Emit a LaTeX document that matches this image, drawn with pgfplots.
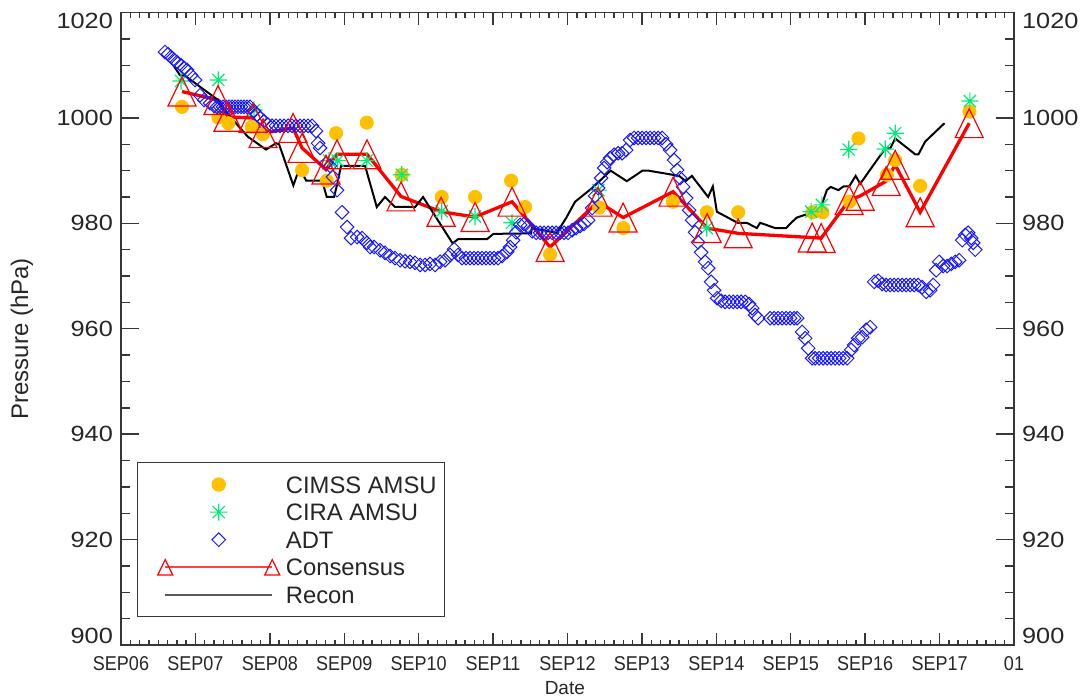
\documentclass[border=0pt]{standalone}
\usepackage{pgfplots}
\pgfplotsset{compat=1.18}
\usepackage{fontspec}
\setmainfont{Liberation Sans}
\definecolor{cimss}{RGB}{255,192,0}
\definecolor{cira}{RGB}{0,235,120}
\definecolor{adt}{RGB}{25,25,255}
\definecolor{cons}{RGB}{255,0,0}
\definecolor{axgray}{RGB}{55,55,55}

\pgfdeclareplotmark{idlstar}{%
  \pgfpathmoveto{\pgfqpoint{-\pgfplotmarksize}{0pt}}\pgfpathlineto{\pgfqpoint{\pgfplotmarksize}{0pt}}%
  \pgfpathmoveto{\pgfqpoint{0pt}{-\pgfplotmarksize}}\pgfpathlineto{\pgfqpoint{0pt}{\pgfplotmarksize}}%
  \pgfpathmoveto{\pgfqpoint{-0.707\pgfplotmarksize}{-0.707\pgfplotmarksize}}\pgfpathlineto{\pgfqpoint{0.707\pgfplotmarksize}{0.707\pgfplotmarksize}}%
  \pgfpathmoveto{\pgfqpoint{-0.707\pgfplotmarksize}{0.707\pgfplotmarksize}}\pgfpathlineto{\pgfqpoint{0.707\pgfplotmarksize}{-0.707\pgfplotmarksize}}%
  \pgfusepathqstroke}
\pgfdeclareplotmark{idldiamond}{%
  \pgfpathmoveto{\pgfqpoint{0pt}{\pgfplotmarksize}}\pgfpathlineto{\pgfqpoint{\pgfplotmarksize}{0pt}}%
  \pgfpathlineto{\pgfqpoint{0pt}{-\pgfplotmarksize}}\pgfpathlineto{\pgfqpoint{-\pgfplotmarksize}{0pt}}%
  \pgfpathclose\pgfusepathqstroke}
\pgfdeclareplotmark{idltri}{%
  \pgfpathmoveto{\pgfqpoint{0pt}{1.03\pgfplotmarksize}}\pgfpathlineto{\pgfqpoint{\pgfplotmarksize}{-1.03\pgfplotmarksize}}%
  \pgfpathlineto{\pgfqpoint{-\pgfplotmarksize}{-1.03\pgfplotmarksize}}%
  \pgfpathclose\pgfusepathqstroke}

\pgfplotsset{
  markleg/.style={legend image code/.code={\path (-9pt,0pt) (59.5pt,0pt);\draw[mark repeat=2,mark phase=2,##1] plot coordinates {(0pt,0pt)(26.75pt,0pt)(53.5pt,0pt)};}},
  consleg/.style={legend image code/.code={\path (-9pt,0pt) (59.5pt,0pt);\draw[##1, line width=1pt, color=cons!75, mark size=3.75pt, mark options={color=cons, line width=0.6pt}] plot coordinates {(0pt,0pt)(53.5pt,0pt)};}},
  reconleg/.style={legend image code/.code={\path (-9pt,0pt) (59.5pt,0pt);\draw[##1, line width=1pt, color=black!65] (0pt,0pt) -- (53.5pt,0pt);}},
  base/.style={at={(60.5pt,26.5pt)}, anchor=south west, scale only axis,
    width=446.5pt, height=316.25pt, xmin=0, xmax=12, ymin=900, ymax=1020,
    axis line style={axgray, line width=0.6pt},
    every tick/.style={axgray, line width=0.7pt},
    /pgf/number format/assume math mode=true,
    /pgf/number format/1000 sep={},
    tick label style={text=black!85},
  },
  yax/.style={base, xtick=\empty, major tick length=9pt, minor tick length=4.5pt,
    yticklabel style={font=\fontsize{11}{13}\selectfont, xscale=1.15}},
}

\begin{document}
\begin{tikzpicture}
\useasboundingbox (0,0) rectangle (541pt,349pt);
% left y ticks and labels
\begin{axis}[yax, ytick={920,940,...,1000}, minor ytick={905,910,...,1015},
  extra y ticks={900}, extra y tick style={yticklabel style={yshift=4.5pt}},
  ytick pos=both, yticklabel pos=left,
  ylabel={Pressure (hPa)},
  ylabel style={at={(axis description cs:-0.111,0.484)}, anchor=center, font=\fontsize{12}{14}\selectfont, text=black!85}]
\end{axis}
\begin{axis}[yax, ytick={1020}, ytick pos=both, yticklabel pos=left, yticklabel style={yshift=-4pt}]
\end{axis}
% right y labels
\begin{axis}[yax, ytick={920,940,...,1000},
  extra y ticks={900}, extra y tick style={yticklabel style={yshift=4.5pt}},
  ytick pos=right, yticklabel pos=right]
\end{axis}
\begin{axis}[yax, ytick={1020}, ytick pos=right, yticklabel pos=right, yticklabel style={yshift=-4pt}]
\end{axis}
% data axis with x ticks
\begin{axis}[base, ytick=\empty, xtick={0,1,...,12}, minor x tick num=7,
  major tick length=6pt, minor tick length=2.5pt,
  xticklabels={SEP06,SEP07,SEP08,SEP09,SEP10,SEP11,SEP12,SEP13,SEP14,SEP15,SEP16,SEP17,01},
  xticklabel style={font=\fontsize{10}{12}\selectfont, xscale=0.9, yshift=-2pt},
  xlabel={Date},
  xlabel style={at={(axis description cs:0.497,-0.068)}, anchor=center, font=\fontsize{9.5}{11}\selectfont, text=black!85},
  legend cell align=left,
  legend style={at={(axis description cs:0.0179,0.2893)}, anchor=north west,
    draw=axgray, line width=0.6pt, fill=white, inner xsep=4pt, inner ysep=5.7pt,
    row sep=3.3pt, font=\fontsize{11.9}{13}\selectfont, text=black!85,
    nodes={inner sep=0pt, text height=9.5pt, text depth=1pt}},
]
\addplot[only marks, mark=*, mark size=3.3pt, color=cimss, markleg]
coordinates {(0.820,1002.1)(1.308,1000.1)(1.442,999.0)(1.757,998.3)(1.906,996.9)(2.433,990.1)(2.765,988.1)(2.890,997.1)(3.302,999.1)(3.773,989.2)(4.310,985.0)(4.758,985.0)(5.242,988.1)(5.430,983.1)(5.766,974.1)(6.425,983.0)(6.751,979.1)(7.415,984.1)(7.872,982.1)(8.293,982.1)(9.291,982.1)(9.426,982.1)(9.789,984.1)(9.910,996.1)(10.292,989.2)(10.403,992.0)(10.739,987.1)(11.402,1001.2)};
\addlegendentry{CIMSS AMSU}

\addplot[only marks, mark=idlstar, mark size=4.3pt, color=cira, mark options={line width=0.6pt}, markleg]
coordinates {(0.806,1007.0)(1.308,1007.2)(1.788,1001.5)(2.796,991.9)(2.910,991.9)(3.302,991.9)(3.773,989.2)(4.310,982.3)(4.758,981.3)(5.255,980.1)(6.415,986.3)(7.872,979.1)(9.274,982.2)(9.418,983.5)(9.778,994.0)(10.269,994.1)(10.403,997.1)(11.407,1003.2)};
\addlegendentry{CIRA AMSU}

\addplot[only marks, mark=idldiamond, mark size=3.4pt, color=adt, mark options={line width=0.5pt}, markleg]
coordinates {(0.591,1012.5)(0.632,1012.1)(0.672,1011.6)(0.712,1011.0)(0.753,1010.6)(0.806,1010.0)(0.847,1009.5)(0.887,1009.1)(0.941,1008.1)(0.995,1007.2)(1.062,1004.3)(1.116,1003.4)(1.196,1002.8)(1.250,1002.3)(1.290,1002.1)(1.331,1002.1)(1.371,1002.1)(1.411,1002.1)(1.452,1002.1)(1.492,1002.1)(1.532,1002.1)(1.573,1002.1)(1.613,1002.1)(1.653,1002.1)(1.694,1002.1)(1.734,1002.1)(1.788,1001.3)(1.828,1000.6)(1.868,1000.0)(1.922,999.4)(1.976,998.7)(2.030,998.5)(2.083,998.5)(2.137,998.5)(2.191,998.5)(2.245,998.5)(2.298,998.5)(2.352,998.5)(2.406,998.5)(2.460,998.5)(2.513,998.5)(2.567,998.5)(2.621,997.5)(2.648,995.2)(2.675,994.3)(2.755,991.4)(2.809,990.9)(2.849,988.8)(2.903,986.3)(2.970,982.1)(3.038,979.3)(3.091,977.2)(3.172,977.4)(3.239,977.2)(3.306,976.3)(3.347,975.5)(3.401,975.5)(3.481,974.9)(3.548,974.4)(3.616,973.8)(3.683,973.4)(3.750,973.0)(3.817,972.8)(3.884,972.7)(3.952,972.5)(4.019,972.1)(4.086,972.1)(4.153,972.3)(4.220,972.1)(4.288,972.7)(4.355,973.0)(4.422,974.0)(4.476,975.1)(4.530,974.0)(4.583,973.4)(4.637,973.4)(4.691,973.4)(4.745,973.4)(4.798,973.4)(4.852,973.4)(4.906,973.4)(4.960,973.4)(5.013,973.4)(5.067,973.4)(5.121,973.8)(5.188,974.6)(5.228,975.5)(5.269,976.8)(5.309,978.3)(5.363,979.7)(5.417,979.9)(5.470,979.5)(5.524,978.5)(5.578,978.2)(5.632,978.2)(5.685,978.2)(5.739,978.2)(5.793,978.2)(5.847,978.2)(5.901,978.2)(5.954,978.2)(6.008,978.2)(6.062,978.7)(6.116,979.1)(6.169,979.5)(6.223,979.9)(6.277,980.6)(6.331,982.9)(6.371,985.2)(6.411,986.7)(6.452,988.6)(6.492,990.5)(6.532,991.6)(6.573,992.4)(6.626,993.0)(6.680,993.3)(6.734,993.3)(6.788,993.9)(6.841,995.8)(6.895,996.2)(6.949,996.2)(7.003,996.2)(7.056,996.2)(7.110,996.2)(7.164,996.2)(7.218,996.2)(7.272,996.2)(7.325,995.0)(7.379,993.9)(7.433,992.0)(7.473,990.1)(7.513,988.6)(7.554,986.9)(7.594,984.8)(7.634,982.5)(7.675,980.6)(7.715,978.3)(7.755,976.4)(7.796,974.5)(7.849,972.7)(7.890,971.5)(7.930,968.9)(7.970,967.3)(8.011,965.8)(8.065,965.3)(8.118,965.1)(8.172,965.1)(8.226,965.1)(8.280,965.1)(8.333,965.1)(8.387,965.1)(8.441,964.7)(8.481,963.9)(8.522,962.6)(8.562,962.0)(8.723,962.0)(8.777,962.0)(8.831,962.0)(8.884,962.0)(8.938,962.0)(8.992,962.0)(9.046,962.0)(9.086,962.0)(9.153,959.4)(9.194,958.2)(9.234,956.3)(9.288,954.4)(9.328,954.4)(9.382,954.4)(9.435,954.4)(9.489,954.4)(9.543,954.4)(9.597,954.4)(9.651,954.4)(9.704,954.4)(9.758,954.4)(9.812,956.0)(9.852,956.9)(9.906,958.2)(9.960,958.4)(10.013,959.8)(10.067,960.3)(10.121,968.9)(10.175,969.1)(10.228,968.5)(10.282,968.3)(10.336,968.3)(10.390,968.3)(10.444,968.3)(10.497,968.3)(10.551,968.3)(10.605,968.3)(10.659,968.3)(10.712,968.3)(10.766,967.9)(10.820,967.0)(10.874,967.3)(10.914,968.3)(10.954,971.1)(10.995,972.7)(11.048,971.9)(11.102,971.9)(11.156,972.3)(11.210,972.7)(11.263,973.0)(11.304,976.8)(11.344,977.8)(11.384,978.2)(11.425,977.2)(11.452,976.3)(11.479,975.0)};
\addlegendentry{ADT}

\addplot[color=cons, line width=1.65pt, mark=idltri, mark size=7pt, mark options={line width=0.6pt}, consleg]
coordinates {(0.820,1005.0)(1.304,1003.4)(1.438,1000.2)(1.774,1000.0)(1.909,997.1)(2.312,998.1)(2.433,994.3)(2.755,990.2)(2.903,993.1)(3.306,993.1)(3.763,985.1)(4.301,982.2)(4.758,981.2)(5.255,984.1)(5.766,975.5)(6.411,984.1)(6.747,981.1)(7.419,986.0)(7.876,979.1)(8.293,978.1)(9.288,977.3)(9.409,977.2)(9.785,984.4)(9.933,985.2)(10.282,988.0)(10.403,991.1)(10.739,982.1)(11.398,999.0)};
\addlegendentry{Consensus}

\addplot[color=black, line width=1pt, mark=none, reconleg]
coordinates {(0.703,1010.0)(0.793,1008.1)(0.860,1008.0)(1.304,1003.4)(1.442,1000.6)(1.707,996.4)(1.949,994.0)(2.083,995.2)(2.124,995.0)(2.316,987.2)(2.366,989.2)(2.450,989.2)(2.487,988.1)(2.702,988.1)(2.765,985.0)(2.863,985.0)(2.903,987.3)(2.957,990.9)(3.280,990.9)(3.437,983.1)(3.548,985.0)(3.683,983.1)(3.952,983.1)(4.059,985.0)(4.456,976.2)(4.530,977.0)(4.919,977.0)(5.004,978.0)(5.511,978.1)(5.520,979.1)(5.856,978.2)(5.981,981.0)(6.102,984.1)(6.331,986.7)(6.579,990.0)(6.797,988.0)(7.007,990.0)(7.087,990.0)(7.500,989.0)(7.587,988.0)(7.671,989.0)(7.890,985.0)(7.953,987.0)(8.007,982.2)(8.286,980.1)(8.410,980.1)(8.544,979.1)(8.589,980.1)(8.790,979.1)(8.938,979.1)(9.005,980.1)(9.082,981.1)(9.294,982.1)(9.382,982.1)(9.485,986.3)(9.536,986.9)(9.641,986.3)(9.708,987.0)(9.785,987.0)(9.872,989.0)(9.933,987.5)(10.269,994.2)(10.336,994.2)(10.403,996.1)(10.672,993.1)(10.716,993.1)(10.806,995.5)(11.066,999.0)};
\addlegendentry{Recon}
\end{axis}
\end{tikzpicture}
\end{document}
